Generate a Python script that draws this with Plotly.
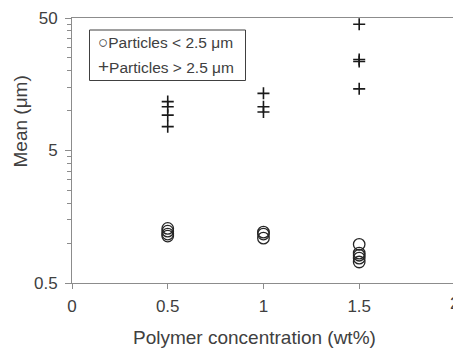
import plotly.graph_objects as go

# Data
small_x = [0.5, 0.5, 0.5, 0.5, 1.0, 1.0, 1.0, 1.5, 1.5, 1.5, 1.5, 1.5]
small_y = [1.29, 1.23, 1.17, 1.13, 1.21, 1.17, 1.09, 0.98, 0.84, 0.81, 0.77, 0.72]
large_x = [0.5, 0.5, 0.5, 0.5, 1.0, 1.0, 1.0, 1.5, 1.5, 1.5, 1.5]
large_y = [11.7, 10.7, 9.24, 7.57, 13.5, 10.7, 9.77, 44.8, 24.3, 23.5, 14.6]

series_names = ["Particles &lt; 2.5 μm", "Particles &gt; 2.5 μm"]
legend_glyphs = ["○", "+"]

x_ticks = [0, 0.5, 1, 1.5]
x_ticktext = ["0", "0.5", "1", "1.5"]
y_ticks = [0.5, 5, 50]
y_ticktext = ["0.5", "5", "50"]
y_minor = [1, 1.5, 2, 2.5, 3, 3.5, 4, 4.5, 10, 15, 20, 25, 30, 35, 40, 45]

FONT = "Liberation Sans, Arial, sans-serif"
TXT = "#404040"
AX = "#8c8c8c"

W, H = 453, 348
ML, MR, MT, MB = 72, 0, 18, 65
PW = W - ML - MR
PH = H - MT - MB


def px(xp):
    return (xp - ML) / PW


def py(yp):
    return (H - MB - yp) / PH


fig = go.Figure()
fig.add_trace(go.Scatter(
    x=small_x, y=small_y, mode="markers", name="Particles < 2.5 μm",
    marker=dict(symbol="circle-open", size=11.5, color="#262626", line=dict(width=1.3)),
    cliponaxis=False, showlegend=False,
))
fig.add_trace(go.Scatter(
    x=large_x, y=large_y, mode="markers", name="Particles > 2.5 μm",
    marker=dict(symbol="cross-thin-open", size=8.6, color="#1a1a1a",
                line=dict(width=1.6, color="#1a1a1a")),
    cliponaxis=False, showlegend=False,
))

annotations = [
    dict(text="2", x=px(455), xref="paper", y=py(303), yref="paper",
         showarrow=False, font=dict(size=17, color=TXT), xanchor="center", yanchor="middle"),
    dict(text="Polymer concentration (wt%)", x=px(254), xref="paper", y=py(337), yref="paper",
         showarrow=False, font=dict(size=19, color=TXT), xanchor="center", yanchor="middle"),
    dict(text="Mean (μm)", x=px(20), xref="paper", y=py(121.5), yref="paper",
         showarrow=False, font=dict(size=19, color=TXT), textangle=-90,
         xanchor="center", yanchor="middle"),
]
glyph_sizes = [17, 19]
for i, (g, name) in enumerate(zip(legend_glyphs, series_names)):
    annotations.append(dict(
        text='<span style="font-size:%dpx">%s</span>%s' % (glyph_sizes[i], g, name),
        x=px(96), xref="paper", y=py(43 + 24 * i), yref="paper",
        showarrow=False, font=dict(size=15.5, color=TXT), xanchor="left", yanchor="middle",
    ))

fig.update_layout(
    width=W, height=H,
    margin=dict(l=ML, r=MR, t=MT, b=MB),
    paper_bgcolor="white", plot_bgcolor="white",
    font=dict(family=FONT, color=TXT, size=14),
    showlegend=False,
    xaxis=dict(
        range=[0, 1.99], showgrid=False, zeroline=False,
        showline=True, linecolor=AX, linewidth=1, mirror=True,
        tickmode="array", tickvals=x_ticks, ticktext=x_ticktext,
        ticks="outside", ticklen=5, tickcolor=AX,
        tickfont=dict(size=17, color=TXT), ticklabelstandoff=3,
    ),
    yaxis=dict(
        type="log", range=[-0.30103, 1.69897], showgrid=False, zeroline=False,
        showline=True, linecolor=AX, linewidth=1,
        tickmode="array", tickvals=y_ticks, ticktext=y_ticktext,
        ticks="outside", ticklen=6, tickcolor=AX,
        tickfont=dict(size=17, color=TXT), ticklabelstandoff=4,
        minor=dict(tickmode="array", tickvals=y_minor, ticks="outside", ticklen=4,
                   tickcolor=AX, showgrid=False),
    ),
    shapes=[dict(type="rect", xref="paper", yref="paper",
                 x0=px(89.5), x1=px(245.5), y0=py(80.5), y1=py(30),
                 line=dict(color="#404040", width=1), fillcolor="white", layer="above")],
    annotations=annotations,
)

fig.write_html("out.html")
